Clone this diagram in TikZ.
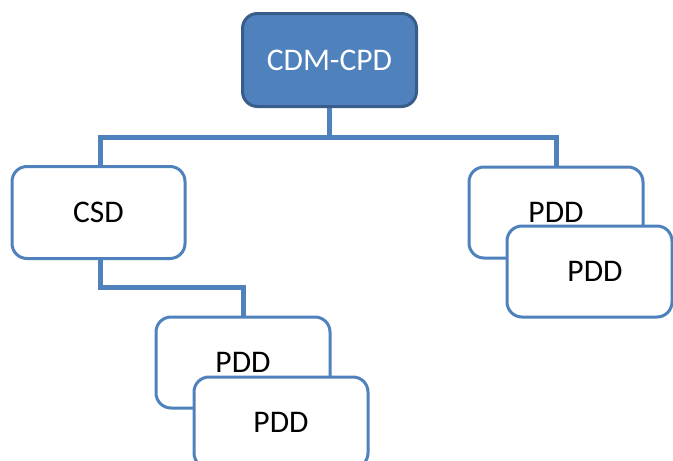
\documentclass[tikz,border=0pt]{standalone}
\usepackage{fontspec}
\setmainfont{Carlito}
\definecolor{accent}{HTML}{4F81BD}
\definecolor{accentdark}{HTML}{385D8A}
\pgfdeclarelayer{background}
\pgfsetlayers{background,main}
\begin{document}
\begin{tikzpicture}[x=1pt,y=-1pt,
  box/.style={draw=accent,line width=3pt,fill=white,rounded corners=15pt,
    minimum width=174pt,minimum height=91pt,inner sep=0pt,
    font=\fontsize{31.5}{36}\selectfont},
  topbox/.style={box,fill=accent,draw=accentdark,text=white},
  conn/.style={draw=accent,line width=5pt}]
\useasboundingbox (0,0) rectangle (673,461);
\node[topbox,minimum height=93pt] (top) at (329.5,60) {CDM-CPD};
\node[box,minimum width=173pt,minimum height=92pt] (csd) at (98.5,212.5) {CSD};
\node[box] (rpdd1) at (556,212.5) {PDD};
\node[box] (bpdd1) at (243,362.5) {PDD};
\node[box,minimum width=165pt] (rpdd2) at (589.5,271.5) {\hspace*{11pt}PDD};
\node[box] (bpdd2) at (281,422.5) {PDD};
\coordinate (j0) at (329.5,137);
\coordinate (j1) at (101,287);
\begin{pgfonlayer}{background}
\draw[conn] (top.south) -- (j0) -| ([xshift=2pt]csd.north);
\draw[conn] (j0) -| (rpdd1.north);
\draw[conn] ([xshift=2pt]csd.south) |- (j1) -| (bpdd1.north);
\end{pgfonlayer}
\end{tikzpicture}
\end{document}
